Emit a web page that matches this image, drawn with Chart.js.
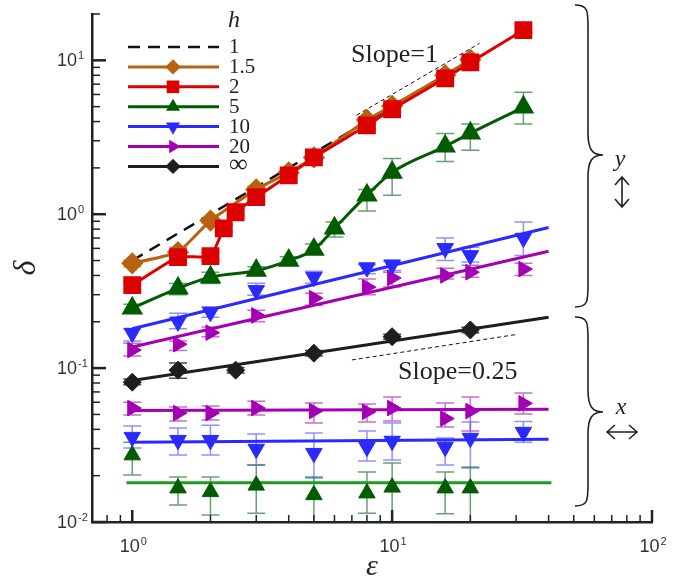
<!DOCTYPE html>
<html>
<head>
<meta charset="utf-8">
<script src="https://cdn.jsdelivr.net/npm/chart.js@4.4.1/dist/chart.umd.min.js"></script>
<style>
  html, body { margin: 0; padding: 0; background: #fff; }
</style>
</head>
<body>
<canvas id="ctx" width="685" height="582"></canvas>
<script>
// values (eps on x, delta on y)
const h1Eps = [1, 20];
const h1Delta = [0.5, 10];

const h15Eps = [1, 1.5, 2, 3, 4, 5, 8, 10, 16, 20];
const h15Delta = [0.48, 0.567, 0.91, 1.45, 1.87, 2.34, 4.1, 5.05, 8.0, 10.1];
const h15Lo = [0.455, 0.53, 0.87, 1.39, 1.79, 2.24, 3.92, 4.85, 7.65, 9.7];
const h15Hi = [0.505, 0.61, 0.95, 1.52, 1.95, 2.45, 4.3, 5.25, 8.35, 10.5];

const h2Eps = [1, 1.5, 2, 2.25, 2.5, 3, 4, 5, 8, 10, 16, 20, 32];
const h2Delta = [0.346, 0.526, 0.534, 0.81, 1.03, 1.29, 1.79, 2.34, 3.78, 4.81, 7.64, 9.7, 15.7];
const h2Lo = [0.325, 0.48, 0.5, 0.77, 0.98, 1.23, 1.72, 2.24, 3.6, 4.6, 7.3, 9.3, 15.0];
const h2Hi = [0.365, 0.58, 0.565, 0.85, 1.08, 1.35, 1.86, 2.44, 3.95, 5.0, 7.95, 10.1, 16.4];

const h5Eps = [1, 1.5, 2, 3, 4, 5, 6, 8, 10, 16, 20, 32];
const h5Delta = [0.245, 0.33, 0.39, 0.43, 0.50, 0.59, 0.81, 1.33, 1.87, 2.76, 3.36, 4.95];
const h5Lo = [0.23, 0.30, 0.355, 0.40, 0.48, 0.55, 0.71, 1.05, 1.33, 2.2, 2.6, 3.85];
const h5Hi = [0.26, 0.355, 0.42, 0.455, 0.53, 0.64, 0.89, 1.45, 2.3, 3.35, 3.85, 6.2];

const scanEps = [1, 1.5, 2, 3, 5, 8, 10, 16, 20, 32];
const h10Delta = [0.169, 0.20, 0.231, 0.32, 0.39, 0.45, 0.47, 0.60, 0.54, 0.70];
const h10Lo = [0.15, 0.18, 0.214, 0.298, 0.356, 0.41, 0.43, 0.50, 0.49, 0.54];
const h10Hi = [0.18, 0.227, 0.25, 0.356, 0.426, 0.467, 0.495, 0.70, 0.61, 0.89];
const h20Delta = [0.131, 0.143, 0.17, 0.22, 0.285, 0.336, 0.385, 0.40, 0.42, 0.44];
const h20Lo = [0.12, 0.13, 0.16, 0.2, 0.256, 0.30, 0.336, 0.38, 0.39, 0.40];
const h20Hi = [0.145, 0.15, 0.185, 0.238, 0.306, 0.38, 0.42, 0.445, 0.466, 0.48];

const hInfEps = [1, 1.5, 2.5, 5, 10, 20];
const hInfDelta = [0.081, 0.097, 0.097, 0.125, 0.16, 0.177];
const hInfLo = [0.078, 0.086, 0.093, 0.12, 0.154, 0.17];
const hInfHi = [0.085, 0.108, 0.101, 0.13, 0.166, 0.184];

const fitEps = [1, 40];
const h10Fit = [0.18, 0.82];
const h20Fit = [0.137, 0.575];
const hInfFit = [0.083, 0.214];

// x-direction (lower group)
const h20xDelta = [0.055, 0.051, 0.051, 0.055, 0.0526, 0.052, 0.055, 0.047, 0.0526, 0.059];
const h20xLo = [0.0495, 0.0453, 0.046, 0.0495, 0.044, 0.0446, 0.0453, 0.0414, 0.039, 0.0503];
const h20xHi = [0.0601, 0.0558, 0.0567, 0.061, 0.0593, 0.0584, 0.0648, 0.0593, 0.0648, 0.0689];
const h10xDelta = [0.0356, 0.034, 0.034, 0.0298, 0.028, 0.0307, 0.0336, 0.0307, 0.0351, 0.0384];
const h10xLo = [0.0303, 0.0272, 0.0272, 0.0235, 0.0193, 0.0249, 0.0253, 0.0235, 0.0224, 0.033];
const h10xHi = [0.042, 0.0408, 0.0426, 0.0373, 0.0379, 0.039, 0.044, 0.0351, 0.0446, 0.045];
const h5xEps = [1, 1.5, 2, 3, 5, 8, 10, 16, 20];
const h5xDelta = [0.0272, 0.0166, 0.0157, 0.0173, 0.015, 0.0154, 0.0168, 0.0166, 0.0166];
const h5xLo = [0.0202, 0.0129, 0.0111, 0.0114, 0.0099, 0.0114, 0.0099, 0.0113, 0.0099];
const h5xHi = [0.033, 0.0196, 0.0196, 0.0235, 0.0196, 0.0211, 0.0242, 0.0211, 0.0228];
const h20xFit = [0.053, 0.054];
const h10xFit = [0.033, 0.0345];
const h5xFitEps = [0.95, 41];
const h5xFit = [0.018, 0.018];

// slope guides
const slope1Eps = [7.3, 21.7];
const slope1Delta = [4.4, 12.9];
const slope025Eps = [7.0, 30.5];
const slope025Delta = [0.113, 0.166];

const hLabels = ['1', '1.5', '2', '5', '10', '20', '\u221E'];

const ORANGE = '#b6620f', RED = '#dd0000', GREEN = '#005c00', GREEN2 = '#1e9c1e',
      BLUE = '#2a2aff', MAG = '#a300b3', BLK = '#1e1e1e';
const SERIF = '"Liberation Serif", "Times New Roman", serif';
const SANS = '"Liberation Sans", Arial, sans-serif';

const pts = (xs, ys) => xs.map((x, i) => ({x: x, y: ys[i]}));

function markers(data, color, style, rot, r, lo, hi, errColor, order) {
  return {data: pts(data[0], data[1]), showLine: false, pointStyle: style, pointRotation: rot,
    pointRadius: r, pointHoverRadius: r, pointBackgroundColor: color, pointBorderColor: color,
    pointBorderWidth: 1, borderColor: color, errLo: lo, errHi: hi, errColor: errColor, order: order};
}
function fitLine(xs, ys, color, order, w) {
  return {data: pts(xs, ys), borderColor: color, borderWidth: w || 3, pointRadius: 0, order: order};
}

const datasets = [
  // h = 1 dashed
  {data: pts(h1Eps, h1Delta), borderColor: '#111', borderWidth: 2.5, borderDash: [12, 8], pointRadius: 0, order: 3},
  // h = 1.5
  {data: pts(h15Eps, h15Delta), borderColor: ORANGE, borderWidth: 3, tension: 0.15,
    pointStyle: 'rectRot', pointRadius: 9, pointBackgroundColor: ORANGE, pointBorderColor: ORANGE,
    errLo: h15Lo, errHi: h15Hi, errColor: 'rgba(190,110,40,0.7)', order: 2},
  // h = 2
  {data: pts(h2Eps, h2Delta), borderColor: RED, borderWidth: 3, tension: 0.15,
    pointStyle: 'rect', pointRadius: 10.5, pointBackgroundColor: RED, pointBorderColor: RED,
    errLo: h2Lo, errHi: h2Hi, errColor: 'rgba(225,40,40,0.75)', order: 1},
  // h = 5 (y)
  {data: pts(h5Eps, h5Delta), borderColor: GREEN, borderWidth: 3, cubicInterpolationMode: 'monotone',
    pointStyle: 'triangle', pointRadius: 9.5, pointBackgroundColor: GREEN, pointBorderColor: GREEN,
    errLo: h5Lo, errHi: h5Hi, errColor: 'rgba(40,120,60,0.7)', order: 4},
  // h = 10 (y)
  markers([scanEps, h10Delta], BLUE, 'triangle', 180, 9.5, h10Lo, h10Hi, 'rgba(70,70,255,0.6)', 6),
  fitLine(fitEps, h10Fit, BLUE, 7),
  // h = 20 (y)
  markers([scanEps, h20Delta], MAG, 'triangle', 90, 9, h20Lo, h20Hi, 'rgba(170,30,185,0.65)', 8),
  fitLine(fitEps, h20Fit, MAG, 9),
  // h = inf
  markers([hInfEps, hInfDelta], BLK, 'rectRot', 0, 9, hInfLo, hInfHi, 'rgba(30,30,30,0.8)', 10),
  fitLine(fitEps, hInfFit, BLK, 11),
  // x-direction group
  markers([scanEps, h20xDelta], MAG, 'triangle', 90, 9, h20xLo, h20xHi, 'rgba(170,30,185,0.65)', 12),
  fitLine(fitEps, h20xFit, MAG, 13),
  markers([scanEps, h10xDelta], BLUE, 'triangle', 180, 9.5, h10xLo, h10xHi, 'rgba(70,70,255,0.6)', 14),
  fitLine(fitEps, h10xFit, BLUE, 15),
  markers([h5xEps, h5xDelta], GREEN, 'triangle', 0, 9.5, h5xLo, h5xHi, 'rgba(40,120,60,0.7)', 16),
  fitLine(h5xFitEps, h5xFit, GREEN2, 17),
  // slope guides
  {data: pts(slope1Eps, slope1Delta), borderColor: '#111', borderWidth: 1, borderDash: [4, 3], pointRadius: 0, order: 18},
  {data: pts(slope025Eps, slope025Delta), borderColor: '#111', borderWidth: 1, borderDash: [4, 3], pointRadius: 0, order: 19}
];

function logTicks(min, max) {
  const out = [];
  for (let e = Math.floor(Math.log10(min)); e <= Math.ceil(Math.log10(max)); e++) {
    for (let m = 1; m <= 9; m++) {
      const v = m * Math.pow(10, e);
      if (v >= min * 0.999 && v <= max * 1.001) out.push({v: v, major: m === 1, e: e});
    }
  }
  return out;
}

function drawPow(ctx, e, x, y, align) {
  ctx.font = '18px ' + SANS;
  const w10 = ctx.measureText('10').width;
  ctx.font = '11px ' + SANS;
  const ws = ctx.measureText(String(e)).width;
  let x0 = align === 'right' ? x - w10 : x - (w10 + ws + 1) / 2;
  ctx.textAlign = 'left';
  ctx.textBaseline = 'middle';
  ctx.font = '18px ' + SANS;
  ctx.fillText('10', x0, y);
  ctx.font = '11px ' + SANS;
  ctx.fillText(String(e), x0 + w10 + 1, y - 5);
}

function legendMarker(ctx, style, rot, x, y, r, color) {
  ctx.save();
  ctx.fillStyle = color;
  ctx.translate(x, y);
  ctx.rotate(rot * Math.PI / 180);
  ctx.beginPath();
  if (style === 'rectRot') {
    ctx.moveTo(0, -r); ctx.lineTo(r, 0); ctx.lineTo(0, r); ctx.lineTo(-r, 0);
  } else if (style === 'rect') {
    const s = r * Math.SQRT1_2;
    ctx.rect(-s, -s, 2 * s, 2 * s);
  } else {
    ctx.moveTo(0, -r);
    ctx.lineTo(r * Math.sin(2 * Math.PI / 3), -r * Math.cos(2 * Math.PI / 3));
    ctx.lineTo(r * Math.sin(4 * Math.PI / 3), -r * Math.cos(4 * Math.PI / 3));
  }
  ctx.closePath();
  ctx.fill();
  ctx.restore();
}

function brace(ctx, xEnd, xStem, xTip, yTop, yTip, yBot) {
  const k = 22;
  ctx.beginPath();
  ctx.moveTo(xEnd, yTop);
  ctx.bezierCurveTo(xStem, yTop, xStem, yTop + 6, xStem, yTop + k);
  ctx.lineTo(xStem, yTip - k);
  ctx.bezierCurveTo(xStem, yTip - 6, xStem + 4, yTip, xTip, yTip);
  ctx.bezierCurveTo(xStem + 4, yTip, xStem, yTip + 6, xStem, yTip + k);
  ctx.lineTo(xStem, yBot - k);
  ctx.bezierCurveTo(xStem, yBot - 6, xStem, yBot, xEnd, yBot);
  ctx.stroke();
}

function arrowV(ctx, x, y1, y2) {
  ctx.beginPath();
  ctx.moveTo(x, y1); ctx.lineTo(x, y2);
  ctx.moveTo(x - 7, y1 + 8); ctx.lineTo(x, y1); ctx.lineTo(x + 7, y1 + 8);
  ctx.moveTo(x - 7, y2 - 8); ctx.lineTo(x, y2); ctx.lineTo(x + 7, y2 - 8);
  ctx.stroke();
}
function arrowH(ctx, x1, x2, y) {
  ctx.beginPath();
  ctx.moveTo(x1, y); ctx.lineTo(x2, y);
  ctx.moveTo(x1 + 8, y - 7); ctx.lineTo(x1, y); ctx.lineTo(x1 + 8, y + 7);
  ctx.moveTo(x2 - 8, y - 7); ctx.lineTo(x2, y); ctx.lineTo(x2 - 8, y + 7);
  ctx.stroke();
}

const decor = {
  id: 'decor',
  beforeDatasetsDraw(chart) {
    const ctx = chart.ctx, xs = chart.scales.x, ys = chart.scales.y, a = chart.chartArea;
    ctx.save();
    ctx.beginPath();
    ctx.rect(a.left, a.top, a.right - a.left, a.bottom - a.top);
    ctx.clip();
    chart.data.datasets.forEach(ds => {
      if (!ds.errLo) return;
      ctx.strokeStyle = ds.errColor;
      ctx.lineWidth = 1.5;
      ds.data.forEach((p, j) => {
        const x = xs.getPixelForValue(p.x);
        const y1 = ys.getPixelForValue(ds.errLo[j]);
        const y2 = ys.getPixelForValue(ds.errHi[j]);
        ctx.beginPath();
        ctx.moveTo(x, y1); ctx.lineTo(x, y2);
        ctx.moveTo(x - 9, y1); ctx.lineTo(x + 9, y1);
        ctx.moveTo(x - 9, y2); ctx.lineTo(x + 9, y2);
        ctx.stroke();
      });
    });
    ctx.restore();
  },
  afterDraw(chart) {
    const ctx = chart.ctx, xs = chart.scales.x, ys = chart.scales.y, a = chart.chartArea;
    ctx.save();
    ctx.strokeStyle = '#222';
    ctx.fillStyle = '#333';
    // inward ticks + labels
    logTicks(xs.min, xs.max).forEach(t => {
      const x = xs.getPixelForValue(t.v);
      ctx.lineWidth = t.major ? 2.5 : 1.5;
      ctx.beginPath();
      ctx.moveTo(x, a.bottom);
      ctx.lineTo(x, a.bottom - (t.major ? 12 : 7));
      ctx.stroke();
      if (t.major) drawPow(ctx, t.e, x + 1, a.bottom + 25, 'center');
    });
    logTicks(ys.min, ys.max).forEach(t => {
      const y = ys.getPixelForValue(t.v);
      ctx.lineWidth = t.major ? 2.5 : 1.5;
      ctx.beginPath();
      ctx.moveTo(a.left, y);
      ctx.lineTo(a.left + (t.major ? 14 : 8), y);
      ctx.stroke();
      if (t.major) drawPow(ctx, t.e, a.left - 15, y + 1, 'right');
    });

    // legend
    ctx.fillStyle = '#222';
    ctx.font = 'italic 24px ' + SERIF;
    ctx.textAlign = 'left';
    ctx.textBaseline = 'alphabetic';
    ctx.fillText('h', 228, 27);
    const legendSets = [0, 1, 2, 3, 5, 7, 9];
    const markerOf = [null, 1, 2, 3, 4, 6, 8];
    hLabels.forEach((lab, i) => {
      const y = 47 + i * 19.9;
      const ds = chart.data.datasets[legendSets[i]];
      ctx.save();
      ctx.strokeStyle = ds.borderColor;
      ctx.lineWidth = ds.borderWidth;
      ctx.setLineDash(ds.borderDash || []);
      ctx.beginPath();
      ctx.moveTo(128, y); ctx.lineTo(219, y);
      ctx.stroke();
      ctx.restore();
      if (markerOf[i] !== null) {
        const m = chart.data.datasets[markerOf[i]];
        legendMarker(ctx, m.pointStyle, m.pointRotation || 0, 173, y, m.pointRadius * 0.85, m.pointBackgroundColor);
      }
      ctx.fillStyle = '#222';
      ctx.font = (lab === '\u221E' ? '26px ' : '21px ') + SERIF;
      ctx.textBaseline = 'alphabetic';
      ctx.fillText(lab, 229, y + 6);
    });

    // slope notes
    ctx.font = '26px ' + SERIF;
    ctx.fillText('Slope=1', 351, 62);
    ctx.fillText('Slope=0.25', 398, 379);

    // braces and direction marks
    ctx.strokeStyle = '#222';
    ctx.lineWidth = 1.6;
    brace(ctx, 575, 588, 603, 5, 155, 307);
    brace(ctx, 575, 588, 603, 317, 412, 506);
    arrowV(ctx, 622, 177, 207);
    arrowH(ctx, 607, 637, 432);
    ctx.font = 'italic 24px ' + SERIF;
    ctx.textAlign = 'center';
    ctx.fillText('y', 620, 166);
    ctx.fillText('x', 621, 414);
    ctx.restore();
  }
};

new Chart(document.getElementById('ctx'), {
  type: 'line',
  data: {datasets: datasets},
  options: {
    responsive: false,
    devicePixelRatio: 1,
    animation: false,
    events: [],
    layout: {padding: {top: 14, right: 33, left: 0, bottom: 0}},
    plugins: {legend: {display: false}, tooltip: {enabled: false}},
    scales: {
      x: {
        type: 'logarithmic', min: 0.7, max: 100,
        grid: {display: false},
        border: {display: true, width: 2.5, color: '#222'},
        ticks: {display: false},
        title: {display: true, text: '\u03B5', color: '#222',
          font: {family: SERIF, style: 'italic', size: 30, lineHeight: 1}, padding: {top: 0, bottom: 0}},
        afterFit: s => { s.height = 60; }
      },
      y: {
        type: 'logarithmic', min: 0.01, max: 20,
        grid: {display: false},
        border: {display: true, width: 2.5, color: '#222'},
        ticks: {display: false},
        title: {display: true, text: '\u03B4', color: '#222',
          font: {family: SERIF, style: 'italic', size: 32, lineHeight: 1}, padding: {top: 11, bottom: 0}},
        afterFit: s => { s.width = 92; }
      }
    }
  },
  plugins: [decor]
});
</script>
</body>
</html>
